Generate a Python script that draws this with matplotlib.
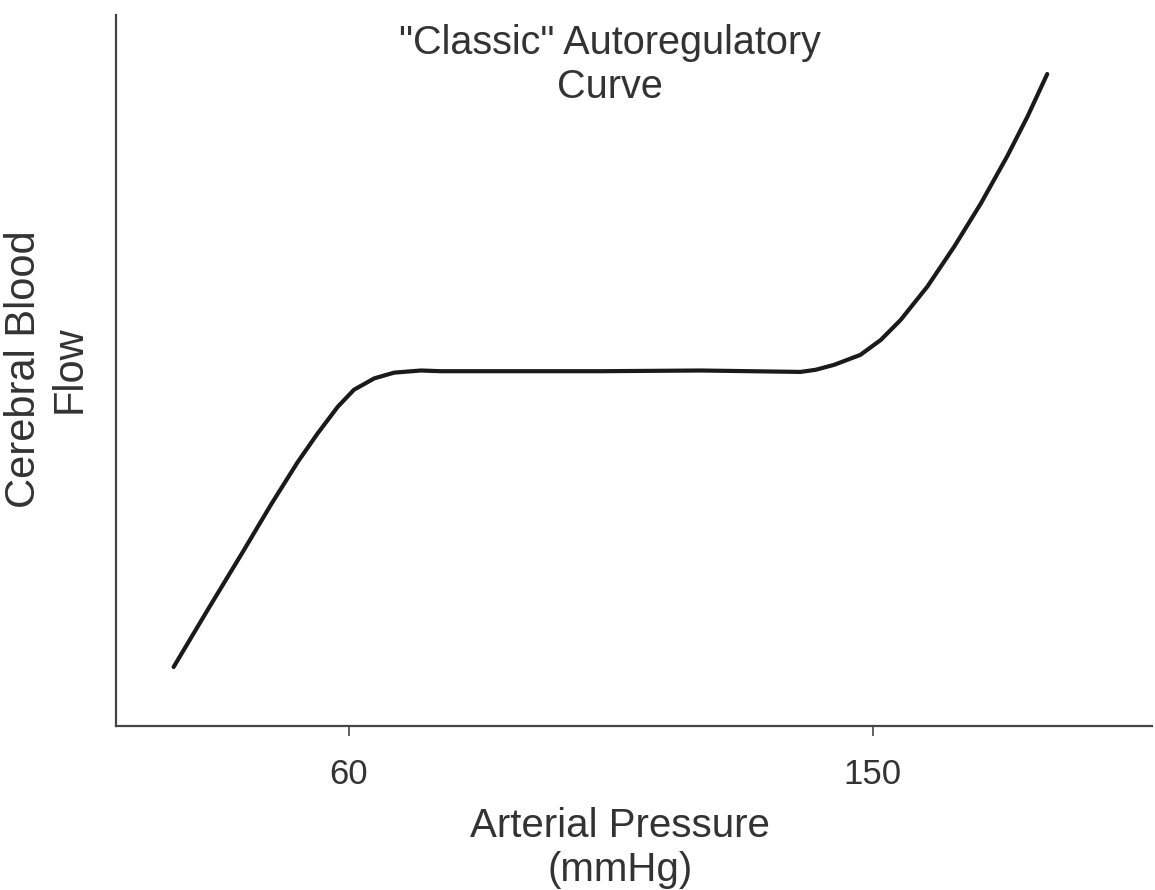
import matplotlib
matplotlib.use("Agg")
import matplotlib.pyplot as plt

plt.rcParams['font.family'] = ['Liberation Sans', 'DejaVu Sans']

# Data (arbitrary flow units, 0-100 on the y range)
pressure = [29.9, 35.8, 41.8, 46.6, 51.2, 54.6, 58.1, 60.9, 64.4, 67.8, 72.4, 75.8,
            86.1, 103.3, 120.5, 129.1, 137.6, 140.2, 143.4, 147.9, 151.4, 154.8, 159.4,
            164.0, 168.6, 173.1, 176.6, 180.0]
flow = [8.3, 16.4, 24.5, 31.1, 37.1, 41.1, 44.9, 47.3, 48.9, 49.7, 50.0, 49.9,
        49.9, 49.9, 50.0, 49.9, 49.8, 50.1, 50.8, 52.2, 54.3, 57.1, 61.8,
        67.4, 73.5, 80.1, 85.7, 91.7]
xticks = [60, 150]
xticklabels = ["60", "150"]

title = '"Classic" Autoregulatory\nCurve'
xlabel = "Arterial Pressure\n(mmHg)"
ylabel = "Cerebral Blood\nFlow"

W, H = 1155, 890
fig = plt.figure(figsize=(W / 100, H / 100), dpi=100)
ax = fig.add_axes([116 / W, (H - 726) / H, (1152 - 116) / W, (726 - 15) / H])

ax.plot(pressure, flow, color='#1a1a1a', lw=3.0, solid_capstyle='round',
        solid_joinstyle='round')
ax.set_xlim(20, 198)
ax.set_ylim(0, 100)

for s in ['top', 'right']:
    ax.spines[s].set_visible(False)
for s in ['left', 'bottom']:
    ax.spines[s].set_color('#444444')
    ax.spines[s].set_linewidth(1.6)

ax.set_xticks(xticks)
ax.set_xticklabels(xticklabels)
ax.set_yticks([])
ax.tick_params(axis='x', direction='out', length=7, width=1.3, color='#555555',
               pad=16, labelsize=25, labelcolor='#333333')

txt = '#333333'
fig.text(610 / W, 1 - 65 / H, title, ha='center', va='center', fontsize=28.5,
         color=txt, linespacing=1.2)
fig.text(620 / W, 1 - 848 / H, xlabel, ha='center', va='center', fontsize=29,
         color=txt, linespacing=1.2)
fig.text(47 / W, 1 - 369 / H, ylabel, ha='center', va='center', fontsize=30,
         color=txt, rotation=90, linespacing=1.2)

fig.savefig('out.png', dpi=100, facecolor='white')
